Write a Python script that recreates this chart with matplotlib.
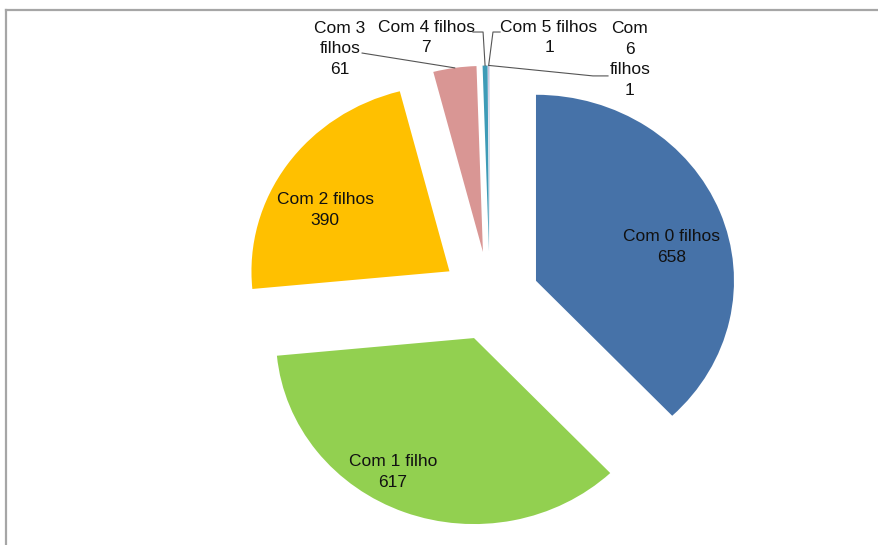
import numpy as np
import matplotlib.pyplot as plt
from matplotlib.lines import Line2D

# number of children per person
categories = ['Com 0 filhos', 'Com 1 filho', 'Com 2 filhos', 'Com 3 filhos',
              'Com 4 filhos', 'Com 5 filhos', 'Com 6 filhos']
counts = [658, 617, 390, 61, 7, 1, 1]

colors = ['#4672A8', '#92D050', '#FFC000', '#D99694', '#3E9BB7', '#B3A2C7', '#C6D9F1']
explode = [0.25, 0.23, 0.25, 0.25, 0.25, 0.25, 0.25]

# label text wrapping, as laid out by the spreadsheet
label_text = ['Com 0 filhos', 'Com 1 filho', 'Com 2 filhos', 'Com 3\nfilhos',
              'Com 4 filhos', 'Com 5 filhos', 'Com\n6\nfilhos']
label_pos = [(0.919, 0.274), (-0.490, -0.935), (-0.833, 0.473), (-0.758, 1.339),
             (-0.323, 1.400), (0.298, 1.400), (0.707, 1.282)]
# leader line start points (None = label sits inside its slice)
leader_start = [None, None, None,
                [(-0.646, 1.317)],
                [(-0.086, 1.430), (-0.035, 1.430)],
                [(0.051, 1.430), (0.015, 1.430)],
                [(0.596, 1.194), (0.520, 1.194)]]

plt.rcParams['font.family'] = ['Liberation Sans', 'DejaVu Sans']

W, H = 879, 545
fig = plt.figure(figsize=(W / 100, H / 100), dpi=100)
ax = fig.add_axes([0, 0, 1, 1])

wedges, _ = ax.pie(counts, colors=colors, explode=explode, startangle=90,
                   counterclock=False, radius=1.0,
                   wedgeprops=dict(linewidth=0, antialiased=True))

# slightly wider than tall, like the source chart
cx, cy, rx, ry = 490, 298, 198, 186
ax.set_aspect('auto')
ax.set_xlim(-cx / rx, (W - cx) / rx)
ax.set_ylim(-(H - cy) / ry, cy / ry)
ax.axis('off')

for i, w in enumerate(wedges):
    txt = f'{label_text[i]}\n{counts[i]}'
    ax.text(label_pos[i][0], label_pos[i][1], txt, ha='center', va='center',
            fontsize=12.5, linespacing=1.48, color='#111111', zorder=5)
    if leader_start[i] is not None:
        mid = np.deg2rad((w.theta1 + w.theta2) / 2)
        end = (w.center[0] + w.r * np.cos(mid), w.center[1] + w.r * np.sin(mid))
        pts = leader_start[i] + [end]
        xs, ys = zip(*pts)
        ax.plot(xs, ys, color='#555555', lw=0.8, zorder=4)

# chart area border (top and left edges)
fig.add_artist(Line2D([6.5 / W, 1], [1 - 9.5 / H, 1 - 9.5 / H], color='#a6a6a6',
                      lw=1.6, transform=fig.transFigure))
fig.add_artist(Line2D([6.5 / W, 6.5 / W], [0, 1 - 9.5 / H], color='#a6a6a6',
                      lw=1.6, transform=fig.transFigure))

fig.savefig('out.png', dpi=100)
